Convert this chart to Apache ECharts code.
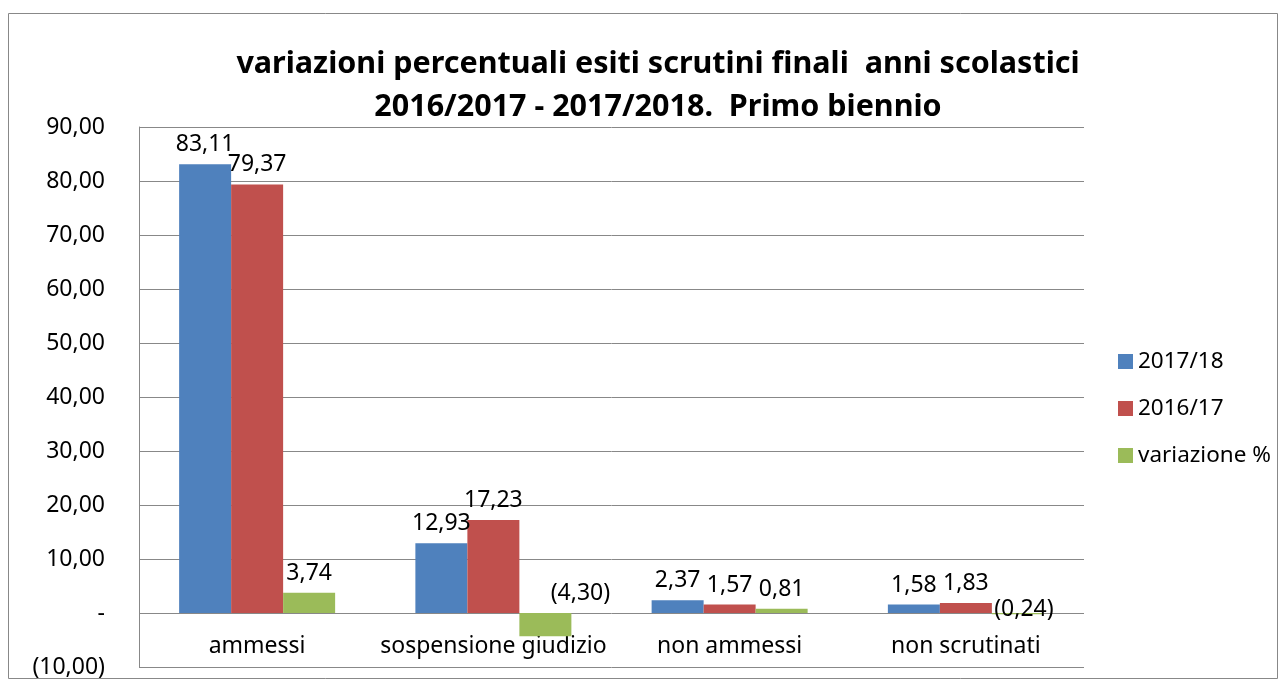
<!DOCTYPE html>
<html><head><meta charset="utf-8">
<script src="https://cdn.jsdelivr.net/npm/echarts@6/dist/echarts.min.js"></script>
<style>html,body{margin:0;padding:0;background:#fff}#c{width:1287px;height:680px}</style>
</head><body><div id="c"></div>
<script>
const categories = ['ammessi', 'sospensione giudizio', 'non ammessi', 'non scrutinati'];
const seriesNames = ['2017/18', '2016/17', 'variazione %'];
const values2017 = [83.11, 12.93, 2.37, 1.58];
const values2016 = [79.37, 17.23, 1.57, 1.83];
const variazione = [3.74, -4.30, 0.81, -0.24];
const titleLines = ['variazioni percentuali esiti scrutini finali  anni scolastici', '2016/2017 - 2017/2018.  Primo biennio'];

const FONT = 'Noto Sans';
const FS = 23;
function fmt(v) {
  if (Math.abs(v) < 1e-9) return '-';
  const s = Math.abs(v).toFixed(2).replace('.', ',');
  return v < 0 ? '(' + s + ')' : s;
}
const colors = ['#4F81BD', '#C0504D', '#9BBB59'];
// label nudges for negative values (style only)
const negLabelOffset = {1: [35, 0], 3: [6, 16]};
const chart = echarts.init(document.getElementById('c'), null, {renderer: 'canvas'});
function mk(name, data, color) {
  return {
    name, type: 'bar',
    data: data.map((v, i) => (v < 0 && negLabelOffset[i]) ? {value: v, label: {offset: negLabelOffset[i]}} : v),
    barWidth: 52, barGap: '0%', barCategoryGap: '34%',
    itemStyle: {color},
    label: {show: true, position: 'top', distance: 8, formatter: p => fmt(p.value),
      fontFamily: FONT, fontSize: FS, color: '#000'}
  };
}
chart.setOption({
  animation: false,
  textStyle: {fontFamily: FONT},
  graphic: [{type: 'rect', shape: {x: 8.5, y: 13.5, width: 1269, height: 665}, style: {fill: 'none', stroke: '#888', lineWidth: 1}, silent: true, z: -1}],
  title: {text: titleLines.join('\n'), left: 653, textAlign: 'center', top: 38,
    textStyle: {fontFamily: FONT, fontWeight: 'bold', fontSize: 30.5, lineHeight: 43, color: '#000'}},
  legend: {orient: 'vertical', left: 1113, top: 345, itemGap: 24, itemWidth: 15, itemHeight: 15,
    icon: 'rect', data: seriesNames, textStyle: {fontFamily: FONT, fontSize: 22.5, color: '#000'}},
  grid: {left: 139, right: 203, top: 127, bottom: 13, containLabel: false, outerBoundsMode: 'none'},
  xAxis: {type: 'category', data: categories, position: 'bottom', offset: -54,
    axisLine: {show: false, onZero: false}, axisTick: {show: false},
    axisLabel: {fontFamily: FONT, fontSize: FS, color: '#000', margin: 22, interval: 0}},
  yAxis: {type: 'value', min: -10, max: 90, interval: 10,
    axisLine: {show: true, lineStyle: {color: '#888'}}, axisTick: {show: false},
    splitLine: {lineStyle: {color: '#888'}},
    axisLabel: {fontFamily: FONT, fontSize: FS, color: '#000', margin: 34, formatter: v => fmt(v)}},
  series: [mk(seriesNames[0], values2017, colors[0]), mk(seriesNames[1], values2016, colors[1]), mk(seriesNames[2], variazione, colors[2])]
});
</script></body></html>
